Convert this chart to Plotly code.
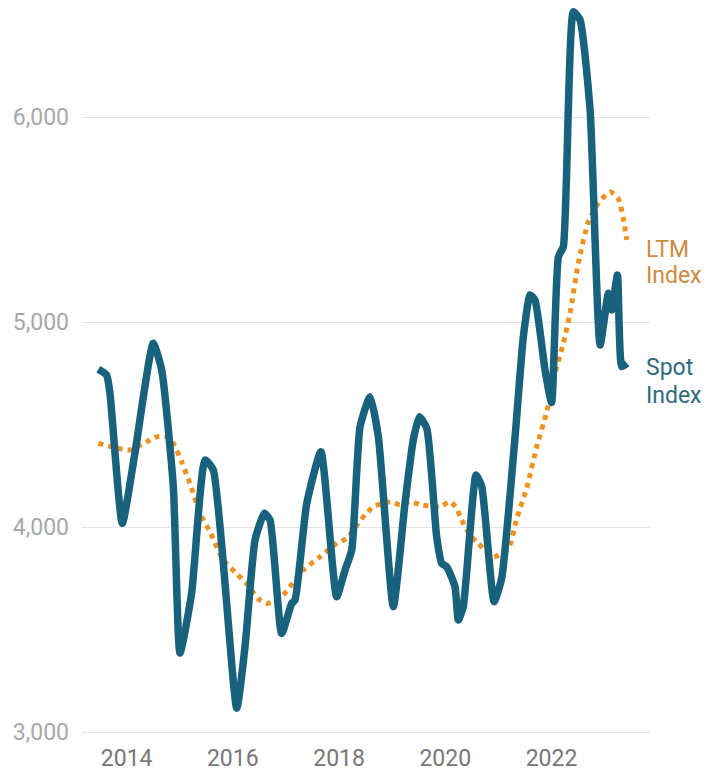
import plotly.graph_objects as go

# ---- Data ----
spot_dates = [
    "2013-06-20", "2013-08-16", "2013-09-08", "2013-12-02", "2014-02-27", "2014-07-03",
    "2014-08-30", "2014-11-18", "2015-01-03", "2015-03-24", "2015-06-24", "2015-08-20",
    "2016-01-28", "2016-03-25", "2016-06-02", "2016-08-05", "2016-09-13", "2016-12-02",
    "2017-02-09", "2017-03-04", "2017-05-23", "2017-08-29", "2017-12-15", "2018-02-11",
    "2018-03-29", "2018-05-25", "2018-08-02", "2018-09-28", "2019-01-09", "2019-03-30",
    "2019-05-26", "2019-07-07", "2019-08-27", "2019-11-03", "2019-12-08", "2020-01-11",
    "2020-03-08", "2020-03-31", "2020-05-04", "2020-07-31", "2020-09-08", "2020-12-02",
    "2021-01-23", "2021-04-25", "2021-06-21", "2021-08-06", "2021-09-09", "2021-11-17",
    "2022-01-01", "2022-02-17", "2022-03-23", "2022-05-31", "2022-07-16", "2022-09-23",
    "2022-12-01", "2023-01-27", "2023-02-19", "2023-03-30", "2023-04-29", "2023-06-04",
]
spot_values = [
    4769, 4741, 4654, 4018, 4361, 4896,
    4766, 4197, 3385, 3678, 4327, 4278,
    3116, 3416, 3937, 4067, 4034, 3481,
    3627, 3644, 4113, 4367, 3660, 3790,
    3888, 4489, 4636, 4440, 3611, 4115,
    4424, 4538, 4481, 3952, 3822, 3806,
    3709, 3546, 3611, 4254, 4197, 3636,
    3750, 4440, 4928, 5132, 5107, 4766,
    4607, 5318, 5367, 6513, 6473, 6034,
    4888, 5140, 5059, 5229, 4782, 4798,
]

ltm_dates = [
    "2013-06-20", "2013-11-04", "2014-01-24", "2014-05-19", "2014-07-26", "2014-10-03",
    "2014-11-18", "2015-01-14", "2015-03-12", "2015-05-20", "2015-07-28", "2015-10-27",
    "2016-01-28", "2016-04-05", "2016-06-24", "2016-08-21", "2016-10-29", "2016-12-13",
    "2017-01-28", "2017-04-30", "2017-08-23", "2017-12-15", "2018-02-22", "2018-05-13",
    "2018-06-28", "2018-08-24", "2018-12-29", "2019-02-24", "2019-05-04", "2019-07-23",
    "2019-11-26", "2020-02-03", "2020-03-20", "2020-04-12", "2020-06-19", "2020-08-15",
    "2020-11-27", "2021-03-10", "2021-05-07", "2021-07-14", "2021-09-21", "2021-11-29",
    "2022-01-25", "2022-03-23", "2022-05-08", "2022-07-04", "2022-09-11", "2022-11-19",
    "2023-02-07", "2023-04-05", "2023-05-10", "2023-06-02",
]
ltm_values = [
    4408, 4384, 4376, 4416, 4440, 4440,
    4408, 4318, 4213, 4067, 3977, 3839,
    3772, 3724, 3650, 3627, 3644, 3668,
    3709, 3790, 3855, 3920, 3944, 4018,
    4059, 4099, 4123, 4107, 4123, 4107,
    4099, 4123, 4091, 4050, 3961, 3920,
    3855, 3896, 4042, 4189, 4392, 4562,
    4750, 4896, 5042, 5286, 5489, 5579,
    5635, 5601, 5504, 5400,
]

x_tick_dates = ["2014-01-01", "2016-01-01", "2018-01-01", "2020-01-01", "2022-01-01"]
x_tick_labels = ["2014", "2016", "2018", "2020", "2022"]
y_tick_values = [3000, 4000, 5000, 6000]
y_tick_labels = ["3,000", "4,000", "5,000", "6,000"]

SPOT_COLOR = "#19627d"
LTM_COLOR = "#ef9320"
FONT = "Roboto"

W, H = 706, 774
L, R, T, B = 82, 56, 0, 39
PLOT_W = W - L - R
PLOT_H = H - T - B

fig = go.Figure()
fig.add_trace(go.Scatter(
    x=ltm_dates, y=ltm_values, mode="lines", name="LTM Index",
    line=dict(color=LTM_COLOR, width=5, dash="dot", shape="spline", smoothing=0.6),
    hoverinfo="skip",
))
fig.add_trace(go.Scatter(
    x=spot_dates, y=spot_values, mode="lines", name="Spot Index",
    line=dict(color=SPOT_COLOR, width=7.5, shape="spline", smoothing=0.5),
    hoverinfo="skip",
))

fig.update_layout(
    width=W, height=H,
    margin=dict(l=L, r=R, t=T, b=B, pad=0),
    paper_bgcolor="white", plot_bgcolor="white",
    showlegend=False,
    hovermode=False,
    font=dict(family=FONT, size=23, color="#777777"),
    xaxis=dict(
        type="date",
        range=["2013-02-28", "2023-11-09"],
        tickmode="array", tickvals=x_tick_dates, ticktext=x_tick_labels,
        showgrid=False, zeroline=False, showline=False, ticks="",
        tickfont=dict(family=FONT, size=23, color="#777777"),
        ticklabelstandoff=7,
    ),
    yaxis=dict(
        range=[2985.4, 2985.4 + PLOT_H / 0.205],
        tickmode="array", tickvals=y_tick_values, ticktext=y_tick_labels,
        showgrid=True, gridcolor="#e4e4e4", gridwidth=1,
        zeroline=False, showline=False, ticks="",
        tickfont=dict(family=FONT, size=23, color="#a8a8a8"),
        ticklabelstandoff=12,
    ),
)

annots = [
    ("LTM", 249, "#d08a40"),
    ("Index", 275, "#d08a40"),
    ("Spot", 367, "#2d6a7f"),
    ("Index", 395, "#2d6a7f"),
]
for text, ypx, col in annots:
    fig.add_annotation(
        text=text, xref="paper", yref="paper",
        x=(644 - L) / PLOT_W, y=1 - (ypx - T) / PLOT_H,
        xanchor="left", yanchor="middle", showarrow=False,
        font=dict(family=FONT, size=23, color=col),
    )

fig.write_html(
    "out.html",
    config={"displayModeBar": False, "staticPlot": True},
    post_script="document.body.style.margin='0';document.body.style.overflow='hidden';",
)
